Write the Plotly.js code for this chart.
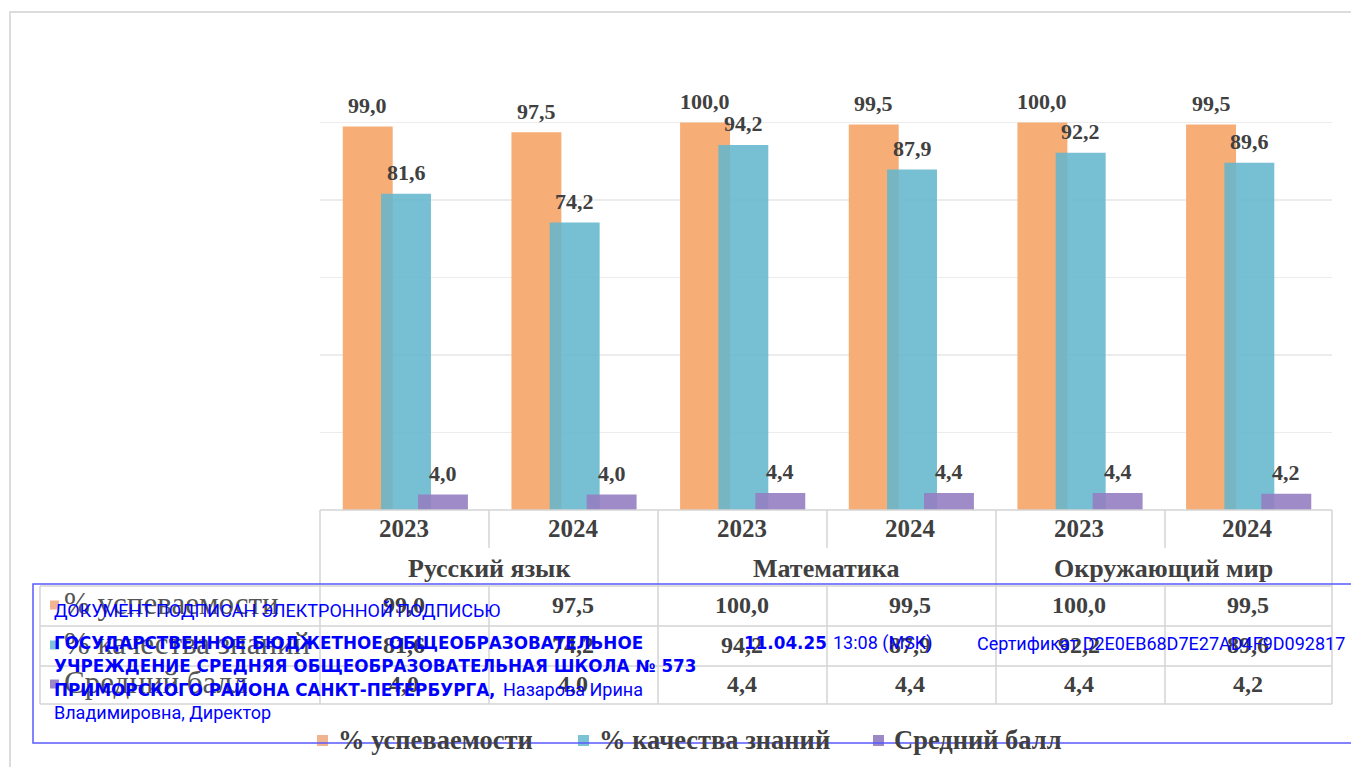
<!DOCTYPE html>
<html>
<head>
<meta charset="utf-8">
<script src="https://cdn.plot.ly/plotly-3.0.1.min.js"></script>
<style>
html,body{margin:0;padding:0;background:#fff;overflow:hidden;}
#chart{width:1351px;height:767px;}
</style>
</head>
<body>
<div id="chart"></div>
<script>
// ---- data ----
const years = ['2023', '2024', '2023', '2024', '2023', '2024'];
const subjects = ['Русский язык', 'Математика', 'Окружающий мир'];
const seriesNames = ['% успеваемости', '% качества знаний', 'Средний балл'];
const uspevaemost = [99.0, 97.5, 100.0, 99.5, 100.0, 99.5];
const kachestvo = [81.6, 74.2, 94.2, 87.9, 92.2, 89.6];
const sredniyBall = [4.0, 4.0, 4.4, 4.4, 4.4, 4.2];

// ---- styling ----
const W = 1351, H = 767;
const X = px => px / W;
const Y = py => 1 - py / H;
const colors = ['#F6AD76', 'rgba(100,182,204,0.88)', 'rgba(148,126,194,0.9)'];
const legendColors = ['#F0B58E', '#7CC3D5', '#9C88C4'];
const serif = 'Liberation Serif, Times New Roman, serif';
const txtColor = '#404040';
const barWidth = 0.296;
const offsets = [-0.365, -0.138, 0.081];
const fmt = v => v.toFixed(1).replace('.', ',');

const series = [uspevaemost, kachestvo, sredniyBall];
const idx = years.map((_, i) => i);

const traces = series.map((vals, s) => ({
  type: 'bar',
  x: idx,
  y: vals,
  name: seriesNames[s],
  width: idx.map(() => barWidth),
  offset: idx.map(() => offsets[s]),
  marker: {color: colors[s], line: {width: 0}},
  hoverinfo: 'skip',
  showlegend: false
}));

const annotations = [];
// data labels
series.forEach((vals, s) => {
  vals.forEach((v, i) => {
    annotations.push({
      xref: 'x', yref: 'y', x: i + offsets[s] + barWidth / 2, y: v,
      yshift: 21, text: fmt(v), showarrow: false,
      xanchor: 'center', yanchor: 'middle',
      font: {family: serif, size: 22, color: txtColor, weight: 'bold'}
    });
  });
});
// table: years
years.forEach((yr, i) => {
  annotations.push({
    xref: 'x', yref: 'paper', x: i, y: Y(528), text: yr, showarrow: false,
    xanchor: 'center', yanchor: 'middle',
    font: {family: serif, size: 25, color: txtColor, weight: 'bold'}
  });
});
// table: subjects
subjects.forEach((sb, k) => {
  annotations.push({
    xref: 'x', yref: 'paper', x: 2 * k + 0.5, y: Y(568), text: sb, showarrow: false,
    xanchor: 'center', yanchor: 'middle',
    font: {family: serif, size: 26, color: txtColor, weight: 'bold'}
  });
});
// table: data rows
const rowY = [605, 645, 684];
series.forEach((vals, s) => {
  vals.forEach((v, i) => {
    annotations.push({
      xref: 'x', yref: 'paper', x: i, y: Y(rowY[s]), text: fmt(v), showarrow: false,
      xanchor: 'center', yanchor: 'middle',
      font: {family: serif, size: 24, color: txtColor, weight: 'bold'}
    });
  });
  annotations.push({
    xref: 'paper', yref: 'paper', x: X(62), y: Y(rowY[s] - 2), text: seriesNames[s], showarrow: false,
    xanchor: 'left', yanchor: 'middle',
    font: {family: serif, size: 31, color: '#555555'}
  });
});
// legend
const legendX = [317, 578, 873];
seriesNames.forEach((n, s) => {
  annotations.push({
    xref: 'paper', yref: 'paper', x: X(legendX[s] + 19), y: Y(740), text: n, showarrow: false,
    xanchor: 'left', yanchor: 'middle',
    font: {family: serif, size: 26.5, color: txtColor, weight: 'bold'}
  });
});

// stamp text
const stampFont = 'Roboto, DejaVu Sans, sans-serif';
const stampBold = 'DejaVu Sans, Roboto, sans-serif';
const blue = '#0000FF';
const stamp = [
  {x: 52, y: 610, t: 'ДОКУМЕНТ ПОДПИСАН ЭЛЕКТРОННОЙ ПОДПИСЬЮ', b: false},
  {x: 52, y: 643, t: 'ГОСУДАРСТВЕННОЕ БЮДЖЕТНОЕ ОБЩЕОБРАЗОВАТЕЛЬНОЕ', b: true},
  {x: 52, y: 666, t: 'УЧРЕЖДЕНИЕ СРЕДНЯЯ ОБЩЕОБРАЗОВАТЕЛЬНАЯ ШКОЛА № 573', b: true},
  {x: 52, y: 689, t: 'ПРИМОРСКОГО РАЙОНА САНКТ-ПЕТЕРБУРГА,', b: true},
  {x: 501, y: 689, t: 'Назарова Ирина', b: false},
  {x: 52, y: 712, t: 'Владимировна, Директор', b: false},
  {x: 742, y: 643, t: '11.04.25', b: true},
  {x: 831, y: 643, t: '13:08 (MSK)', b: false},
  {x: 975, y: 643, t: 'Сертификат D2E0EB68D7E27AD4F9D092817', b: false}
];
stamp.forEach(o => {
  annotations.push({
    xref: 'paper', yref: 'paper', x: X(o.x), y: Y(o.y), text: o.t, showarrow: false,
    xanchor: 'left', yanchor: 'middle',
    font: o.b ? {family: stampBold, size: 16.8, color: blue, weight: 'bold'}
              : {family: stampFont, size: 18, color: blue}
  });
});

// shapes
const gridC = '#d4d4d4';
const line = (x0, y0, x1, y1, c, w) => ({
  type: 'line', xref: 'paper', yref: 'paper',
  x0: X(x0), y0: Y(y0), x1: X(x1), y1: Y(y1),
  line: {color: c || gridC, width: w || 1.5}, layer: 'above'
});
const shapes = [
  // outer chart border
  {type: 'rect', xref: 'paper', yref: 'paper', x0: X(10), y0: Y(800), x1: X(1380), y1: Y(12),
   line: {color: '#dcdcdc', width: 2}, layer: 'below'},
  // table horizontal lines
  line(320, 510, 1332, 510),
  line(40, 586, 1332, 586),
  line(40, 626, 1332, 626),
  line(40, 666, 1332, 666),
  line(40, 704, 1332, 704),
  // verticals
  line(320, 510, 320, 704),
  line(1332, 510, 1332, 704),
  line(40, 586, 40, 704),
  line(658, 510, 658, 704),
  line(996, 510, 996, 704),
  line(489, 510, 489, 548), line(489, 586, 489, 704),
  line(827, 510, 827, 548), line(827, 586, 827, 704),
  line(1165, 510, 1165, 548), line(1165, 586, 1165, 704),
];
// legend keys (table row headers + bottom legend)
rowY.forEach((ry, s) => {
  shapes.push({type: 'rect', xref: 'paper', yref: 'paper',
    x0: X(50), x1: X(59), y0: Y(ry + 4.5), y1: Y(ry - 4.5),
    fillcolor: legendColors[s], line: {width: 0}, layer: 'above'});
});
legendX.forEach((lx, s) => {
  shapes.push({type: 'rect', xref: 'paper', yref: 'paper',
    x0: X(lx), x1: X(lx + 11), y0: Y(746), y1: Y(735),
    fillcolor: legendColors[s], line: {width: 0}, layer: 'above'});
});
// stamp frame
shapes.push({type: 'rect', xref: 'paper', yref: 'paper',
  x0: X(33), x1: X(1400), y0: Y(743), y1: Y(584),
  line: {color: '#5a5aff', width: 1.5}, layer: 'above'});

const layout = {
  width: W, height: H,
  margin: {l: 0, r: 0, t: 0, b: 0},
  paper_bgcolor: '#ffffff',
  plot_bgcolor: 'rgba(0,0,0,0)',
  barmode: 'overlay',
  showlegend: false,
  xaxis: {
    domain: [X(320), X(1332)], range: [-0.5, 5.5],
    showgrid: false, zeroline: false, showticklabels: false, ticks: '', showline: false, fixedrange: true
  },
  yaxis: {
    domain: [Y(510), Y(45)], range: [0, 120], dtick: 20,
    showgrid: true, gridcolor: '#ececec', gridwidth: 1.5,
    zeroline: false, showticklabels: false, ticks: '', showline: false, fixedrange: true
  },
  annotations: annotations,
  shapes: shapes
};

Plotly.newPlot('chart', traces, layout, {staticPlot: true, displayModeBar: false});
</script>
</body>
</html>
